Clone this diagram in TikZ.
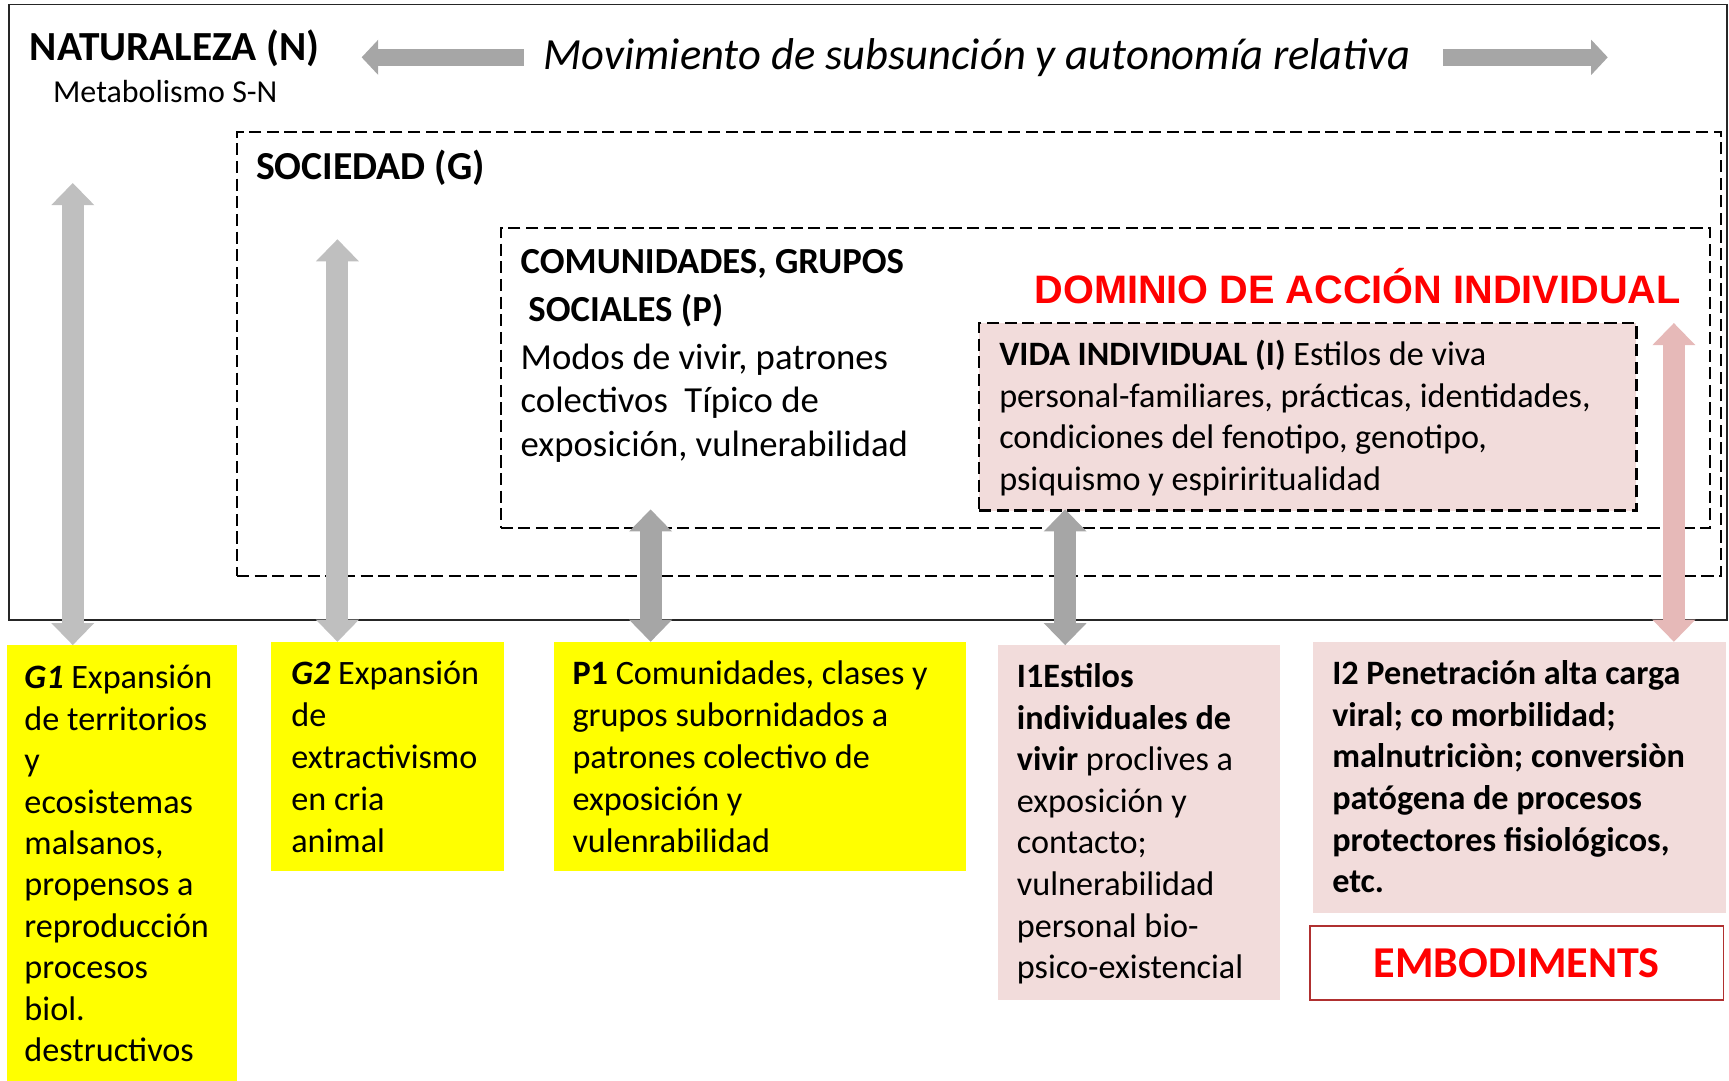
\documentclass[tikz,border=0pt]{standalone}
\usepackage{fontspec}
\setmainfont{Carlito}
\newfontfamily\arialfont{Liberation Sans}
\usepackage{tikz}
\usetikzlibrary{arrows.meta}

\definecolor{boxyellow}{RGB}{255,255,0}
\definecolor{boxpink}{RGB}{242,220,219}
\definecolor{arrowpink}{RGB}{230,185,184}
\definecolor{arrowlight}{RGB}{191,191,191}
\definecolor{arrowdark}{RGB}{166,166,166}
\definecolor{embred}{RGB}{176,48,48}
\definecolor{titlered}{RGB}{255,0,0}

\newcommand{\bodyfont}{\fontsize{31}{37.7}\selectfont}

\begin{document}
\begin{tikzpicture}[x=1pt, y=1pt,
	dashbox/.style={draw=black, line width=2pt, dash pattern=on 11pt off 5pt},
	area/.style={anchor=north west, inner sep=0pt, outer sep=0pt},
	lbl/.style={anchor=base west, inner sep=0pt},
	txt/.style={anchor=north west, inner sep=0pt, align=left, font=\bodyfont},
	vblock/.style={line width=20pt, {Triangle[width=39pt,length=20pt,line width=0pt]}-{Triangle[width=39pt,length=20pt,line width=0pt]}},
	hblock/.style={line width=16pt, color=arrowdark, -{Triangle[width=32pt,length=15pt,line width=0pt]}}]

	\useasboundingbox (0,0) rectangle (1568,-980);

	% frames
	\node[area, draw=black!85, line width=1.6pt, minimum width=1558pt, minimum height=558pt] (nat) at (8,-4) {};
	\node[area, dashbox, minimum width=1346pt, minimum height=402pt] (soc) at (215,-120) {};
	\node[area, dashbox, minimum width=1097pt, minimum height=272pt] (com) at (454,-207) {};
	\node[area, dashbox, fill=boxpink, minimum width=596pt, minimum height=170pt] (vida) at (888,-293) {};

	% labels
	\node[lbl, font=\fontsize{37.5}{45}\selectfont\bfseries] (natlbl) at (27,-55) {NATURALEZA (N)};
	\node[lbl, font=\fontsize{29}{35}\selectfont] (metab) at (48,-93) {Metabolismo S-N};
	\node[anchor=west, inner sep=0pt, font=\fontsize{40.4}{48}\selectfont\itshape] (mov) at (493,-52) {Movimiento de subsunción y autonomía relativa};
	\node[lbl, font=\fontsize{36}{44}\selectfont\bfseries] (soclbl) at (232,-163) {SOCIEDAD (G)};
	\node[txt, font=\fontsize{33.3}{43}\selectfont\bfseries] (comlbl) at (472,-218) {\strut COMUNIDADES, GRUPOS\\\hspace*{7pt}SOCIALES (P)};
	\node[txt, font=\fontsize{33.3}{39.5}\selectfont] (comtxt) at (472,-307) {\strut Modos de vivir, patrones\\colectivos\ \ Típico de\\exposición, vulnerabilidad};
	\node[lbl, font=\arialfont\fontsize{36}{43}\selectfont\bfseries, text=titlered] (dom) at (938,-275) {DOMINIO DE ACCIÓN INDIVIDUAL};
	\node[txt] (vidatxt) at (906,-305) {\strut\textbf{VIDA INDIVIDUAL (I)} Estilos de viva\\personal-familiares, prácticas, identidades,\\condiciones del fenotipo, genotipo,\\psiquismo y espiriritualidad};

	% bottom boxes
	\node[area, fill=boxyellow, minimum width=209pt, minimum height=395pt] (g1) at (6,-585) {};
	\node[area, fill=boxyellow, minimum width=211pt, minimum height=208pt] (g2) at (246,-582) {};
	\node[area, fill=boxyellow, minimum width=374pt, minimum height=208pt] (p1) at (502,-582) {};
	\node[area, fill=boxpink, minimum width=256pt, minimum height=322pt] (i1) at (905,-585) {};
	\node[area, fill=boxpink, minimum width=374pt, minimum height=246pt] (i2) at (1191,-582) {};
	\node[area, draw=embred, line width=1.5pt, minimum width=375pt, minimum height=67pt, font=\fontsize{40}{48}\selectfont\bfseries, text=titlered] (emb) at (1188,-840) {EMBODIMENTS};

	\node[txt, font=\fontsize{31}{37.6}\selectfont] (g1txt) at (22,-598) {\strut\textbf{\textit{G1}} Expansión\\de territorios\\y\\ecosistemas\\malsanos,\\propensos a\\reproducción\\procesos\\biol.\\destructivos};
	\node[txt, font=\fontsize{31}{38}\selectfont] (g2txt) at (264,-594) {\strut\textbf{\textit{G2}} Expansión\\de\\extractivismo\\en cria\\animal};
	\node[txt, font=\fontsize{31}{38}\selectfont] (p1txt) at (519,-594) {\strut\textbf{P1} Comunidades, clases y\\grupos subornidados a\\patrones colectivo de\\exposición y\\vulenrabilidad};
	\node[txt] (i1txt) at (922,-597) {\strut\textbf{I1Estilos}\\\textbf{individuales de}\\\textbf{vivir} proclives a\\exposición y\\contacto;\\vulnerabilidad\\personal bio-\\psico-existencial};
	\node[txt, font=\fontsize{31}{37.8}\selectfont\bfseries] (i2txt) at (1208,-594) {\strut I2 Penetración alta carga\\viral; co morbilidad;\\malnutriciòn; conversiòn\\patógena de procesos\\protectores fisiológicos,\\etc.};

	% arrows
	\coordinate (lefttip) at (328,-52);
	\coordinate (righttip) at (1458,-52);
	\draw[hblock] ([xshift=-18pt]mov.west) -- (lefttip);
	\draw[hblock] ([xshift=29pt]mov.east) -- (righttip);

	\coordinate (top1) at (66,-166);
	\coordinate (top2) at (306,-217);
	\coordinate (top3) at (590,-462);
	\coordinate (top4) at (966,-462);
	\coordinate (top5) at (1518,-293);
	\draw[vblock, color=arrowlight] (top1) -- (top1 |- g1.north);
	\draw[vblock, color=arrowlight] (top2) -- (top2 |- g2.north);
	\draw[vblock, color=arrowdark] (top3) -- (top3 |- p1.north);
	\draw[vblock, color=arrowdark] (top4) -- (top4 |- i1.north);
	\draw[vblock, color=arrowpink] (top5) -- (top5 |- i2.north);
\end{tikzpicture}
\end{document}
